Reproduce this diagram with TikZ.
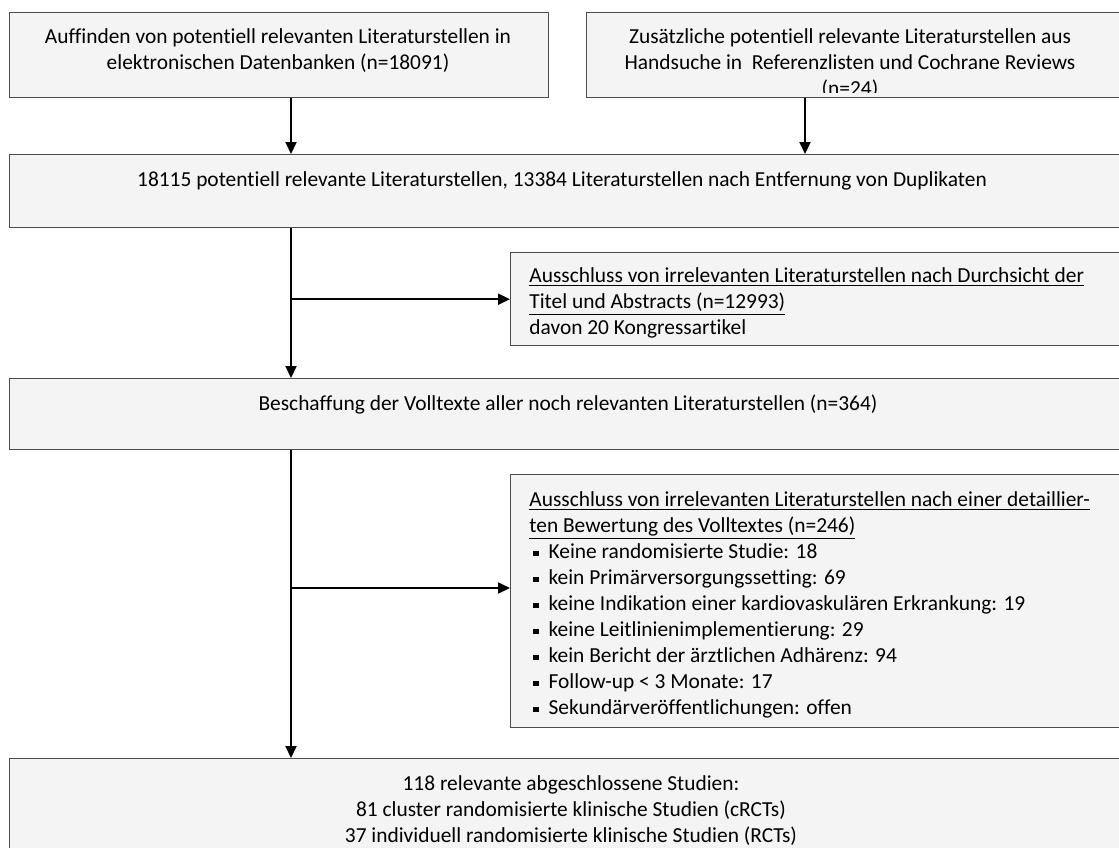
\documentclass[tikz,border=0pt]{standalone}
\usepackage{fontspec}
\setmainfont{Carlito}[Ligatures=NoCommon]
\usepackage{tikz}
\usetikzlibrary{arrows.meta, positioning}
\definecolor{boxgray}{gray}{0.957}
\definecolor{boxline}{gray}{0.30}

\tikzset{
	flowbox/.style={draw=boxline, fill=boxgray, line width=0.7pt, inner sep=0pt, anchor=north west},
	flowtext/.style={inner sep=0pt, font=\fontsize{10.7pt}{13pt}\selectfont},
	flow/.style={line width=1pt, -{Triangle[length=6pt, width=5.5pt]}},
}

\newcommand{\itm}{\hspace*{2pt}\rule[1.3pt]{2.6pt}{2.6pt}\hspace*{5pt}}

\begin{document}
\begin{tikzpicture}[x=0.5pt, y=-0.5pt]

\def \xr{1130} % boxes run past the right edge
\def \sh{18.2} % strut height in px

\newcommand{\bw}[1]{(\xr - #1) * 0.5pt}
\newcommand{\bh}[2]{(#2 - #1) * 0.5pt}

\useasboundingbox (0,0) rectangle (1119,847);

\coordinate (spine) at (291,0); % main line
\coordinate (hand col) at (805,0); % second input line

% boxes
\node[flowbox, minimum width=539*0.5pt, minimum height=\bh{12}{97}] (search) at (9,12) {};
\node[flowbox, minimum width=\bw{586}, minimum height=\bh{12}{97}] (hand search) at (586,12) {};
\node[flowbox, minimum width=\bw{9}, minimum height=\bh{154}{227}] (pool) at (9,154) {};
\node[flowbox, minimum width=\bw{510}, minimum height=\bh{252}{345}] (screen excl) at (510,252) {};
\node[flowbox, minimum width=\bw{9}, minimum height=\bh{378}{449}] (full text) at (9,378) {};
\node[flowbox, minimum width=\bw{510}, minimum height=\bh{474}{727}] (full excl) at (510,474) {};
\node[flowbox, minimum width=\bw{9}, minimum height=\bh{758}{880}] (result) at (9,758) {};

% texts
\node[flowtext, anchor=north, align=center] (search text) at (278, 43-\sh)
	{\strut Auffinden von potentiell relevanten Literaturstellen in\\ elektronischen Datenbanken (n=18091)};

\begin{scope}
	\clip (586,12) rectangle (\xr,92); % third line is cut off
	\node[flowtext, anchor=north, align=center] (hand text) at (850, 43-\sh)
		{\strut Zusätzliche potentiell relevante Literaturstellen aus\\ Handsuche in\ \ Referenzlisten und Cochrane Reviews\\ (n=24)};
\end{scope}

\node[flowtext, anchor=north] (pool text) at (562, 186-\sh)
	{\strut 18115 potentiell relevante Literaturstellen, 13384 Literaturstellen nach Entfernung von Duplikaten};

\begin{scope}
	\clip (510,252) rectangle (\xr,338); % descenders cut off
	\node[flowtext, anchor=north west, align=left] (screen text) at (529, 282-\sh)
		{\strut\underline{Ausschluss von irrelevanten Literaturstellen nach Durchsicht der}\\
		\underline{Titel und Abstracts (n=12993)}\\
		davon 20 Kongressartikel};
\end{scope}

\node[flowtext, anchor=north] (full text label) at (568, 410-\sh)
	{\strut Beschaffung der Volltexte aller noch relevanten Literaturstellen (n=364)};

\node[flowtext, anchor=north west, align=left] (full excl text) at (529, 506-\sh)
	{\strut\underline{Ausschluss von irrelevanten Literaturstellen nach einer detaillier-}\\
	\underline{ten Bewertung des Volltextes (n=246)}\\
	\itm Keine randomisierte Studie: 18\\
	\itm kein Primärversorgungssetting: 69\\
	\itm keine Indikation einer kardiovaskulären Erkrankung: 19\\
	\itm keine Leitlinienimplementierung: 29\\
	\itm kein Bericht der ärztlichen Adhärenz: 94\\
	\itm Follow-up < 3 Monate: 17\\
	\itm Sekundärveröffentlichungen: offen};

\node[flowtext, anchor=north, align=center] (result text) at (571, 790-\sh)
	{\strut 118 relevante abgeschlossene Studien:\\
	81 cluster randomisierte klinische Studien (cRCTs)\\
	37 individuell randomisierte klinische Studien (RCTs)};

% connectors
\coordinate (branch two) at (291,588);

\draw[flow] (search.south -| spine) -- (pool.north -| spine);
\draw[flow] (hand search.south -| hand col) -- (pool.north -| hand col);
\draw[flow] (pool.south -| spine) -- (full text.north -| spine);
\draw[flow] (spine |- screen excl.west) -- (screen excl.west);
\draw[flow] (full text.south -| spine) -- (result.north -| spine);
\draw[flow] (branch two) -- (full excl.west |- branch two);

\end{tikzpicture}
\end{document}
